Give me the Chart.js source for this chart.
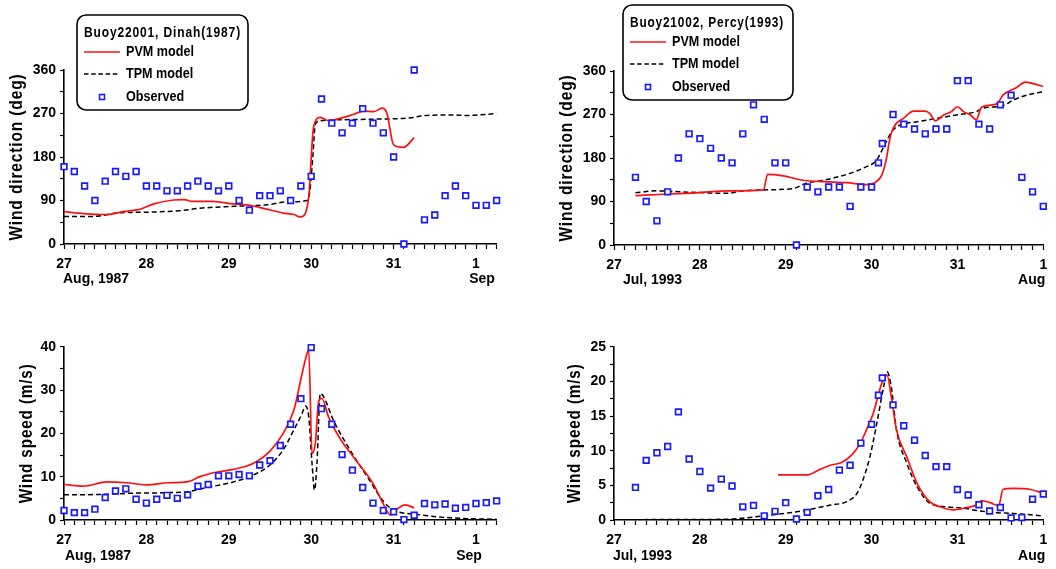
<!DOCTYPE html>
<html>
<head>
<meta charset="utf-8">
<script src="https://cdn.jsdelivr.net/npm/chart.js@4.4.1/dist/chart.umd.min.js"></script>
<style>
  body { margin: 0; background: #fff; }
  #wrap { position: relative; width: 1056px; height: 569px; overflow: hidden; }
  .panel { position: absolute; }
</style>
</head>
<body>
<div id="wrap">
  <div class="panel" style="left:0;top:0"><canvas id="dinahDir" width="528" height="290"></canvas></div>
  <div class="panel" style="left:528px;top:0"><canvas id="percyDir" width="528" height="290"></canvas></div>
  <div class="panel" style="left:0;top:290px"><canvas id="dinahSpd" width="528" height="279"></canvas></div>
  <div class="panel" style="left:528px;top:290px"><canvas id="percySpd" width="528" height="279"></canvas></div>
</div>
<script>
// x values are days after the 27th, 00h
const dayLabels = ["27", "28", "29", "30", "31", "1"];
const seriesNames = ["PVM model", "TPM model", "Observed"];
const dinahTitle = "Buoy22001, Dinah(1987)";
const percyTitle = "Buoy21002, Percy(1993)";
const dinahMonths = ["Aug, 1987", "Sep"];
const percyMonths = ["Jul, 1993", "Aug"];

// Dinah observations, every 3 h
const dinahObsTimes = [0, 0.125, 0.25, 0.375, 0.5, 0.625, 0.75, 0.875, 1, 1.125, 1.25, 1.375, 1.5, 1.625, 1.75, 1.875,
  2, 2.125, 2.25, 2.375, 2.5, 2.625, 2.75, 2.875, 3, 3.125, 3.25, 3.375, 3.5, 3.625, 3.75, 3.875,
  4, 4.125, 4.25, 4.375, 4.5, 4.625, 4.75, 4.875, 5, 5.125, 5.25];
const dinahDirObs = [160, 150, 120, 90, 130, 150, 140, 150, 120, 120, 110, 110, 120, 130, 120, 110,
  120, 90, 70, 100, 100, 110, 90, 120, 140, 300, 250, 230, 250, 280, 250, 230,
  180, 0, 360, 50, 60, 100, 120, 100, 80, 80, 90];
const dinahSpdObs = [2.2, 1.7, 1.7, 2.5, 5.2, 6.7, 7.2, 4.8, 3.9, 4.8, 5.7, 5.0, 5.8, 7.8, 8.2, 10.2,
  10.2, 10.5, 10.2, 12.7, 13.7, 17.2, 22.1, 28.0, 39.8, 25.7, 22.1, 15.1, 11.5, 7.5, 3.9, 2.2,
  1.9, 0.1, 1.1, 3.8, 3.5, 3.7, 2.7, 2.9, 3.8, 4.0, 4.4];

const dinahDirPvm = [[0, 67], [0.24, 63], [0.52, 61], [0.72, 67], [0.92, 72], [1.09, 83], [1.33, 91], [1.46, 92],
  [1.55, 88], [1.77, 88], [2.06, 83], [2.26, 80], [2.46, 72], [2.66, 64], [2.79, 61], [2.87, 56], [2.93, 64],
  [2.97, 98], [3.03, 243], [3.11, 262], [3.21, 255], [3.35, 260], [3.51, 268], [3.64, 275], [3.76, 274],
  [3.86, 281], [3.92, 270], [4.0, 205], [4.12, 200], [4.25, 220]];
const dinahDirTpm = [[0, 57], [0.36, 57], [0.64, 64], [1.05, 66], [1.41, 69], [1.65, 74], [2.06, 78], [2.46, 81],
  [2.7, 87], [2.95, 90], [2.98, 105], [3.02, 181], [3.05, 248], [3.11, 255], [3.68, 258], [4.25, 262],
  [4.33, 265], [4.69, 267], [4.89, 266], [5.25, 270]];
const dinahSpdPvm = [[0, 8.2], [0.24, 7.8], [0.52, 8.8], [0.76, 8.6], [1.0, 8.1], [1.26, 8.6], [1.49, 8.8],
  [1.65, 10], [1.81, 10.9], [2.06, 11.7], [2.3, 13.1], [2.5, 15.9], [2.66, 20], [2.79, 25.4], [2.89, 33.8],
  [2.95, 38.5], [2.97, 39.2], [3.01, 15.4], [3.05, 17.7], [3.09, 27.3], [3.13, 28.1], [3.21, 23.8],
  [3.35, 18.8], [3.51, 14.6], [3.76, 8.1], [3.88, 3.5], [3.96, 1.2], [4.04, 2.5], [4.14, 3.5], [4.25, 2.8]];
const dinahSpdTpm = [[0, 5.8], [0.44, 5.9], [0.85, 6.2], [1.25, 6.3], [1.49, 6.5], [1.73, 7.5], [2.06, 8.8],
  [2.3, 10.4], [2.5, 12.7], [2.66, 16.2], [2.79, 20.8], [2.89, 24.6], [2.93, 26.3], [2.97, 23.8], [3.01, 13.1],
  [3.04, 6.9], [3.07, 13.1], [3.11, 29.2], [3.15, 28.5], [3.27, 23], [3.47, 16.2], [3.68, 10], [3.88, 4.2],
  [4.0, 2.3], [4.28, 1.3], [4.69, 0.5], [5.25, 0.15]];

// Percy observations
const percyObsTimes = [0.25, 0.375, 0.5, 0.625, 0.75, 0.875, 1, 1.125, 1.25, 1.375, 1.5, 1.625, 1.75, 1.875,
  2, 2.125, 2.25, 2.375, 2.5, 2.625, 2.75, 2.875, 3, 3.08, 3.125, 3.25, 3.375, 3.5, 3.625, 3.75, 3.875,
  4, 4.125, 4.25, 4.375, 4.5, 4.625, 4.75, 4.875, 5];
const percyDirObs = [140, 90, 50, 110, 180, 230, 220, 200, 180, 170, 230, 290, 260, 170,
  170, 0, 120, 110, 120, 120, 80, 120, 120, 170, 210, 270, 250, 240, 230, 240, 240,
  340, 340, 250, 240, 290, 310, 140, 110, 80];
const percySpdObs = [4.7, 8.6, 9.7, 10.6, 15.6, 8.8, 7.0, 4.6, 5.9, 4.9, 1.9, 2.1, 0.6, 1.25,
  2.5, 0.15, 1.1, 3.5, 4.4, 7.2, 7.9, 11.1, 13.8, 18.0, 20.5, 16.6, 13.6, 11.5, 9.3, 7.7, 7.7,
  4.4, 3.6, 2.2, 1.3, 1.8, 0.3, 0.35, 3.0, 3.75];

const percyDirPvm = [[0.25, 102], [0.58, 105], [0.96, 108], [1.35, 112], [1.74, 114], [1.79, 146], [1.97, 143],
  [2.2, 134], [2.44, 131], [2.71, 129], [2.94, 125], [3.04, 129], [3.12, 145], [3.17, 176], [3.21, 217],
  [3.25, 241], [3.37, 262], [3.49, 277], [3.62, 277], [3.68, 272], [3.74, 257], [3.84, 269], [3.93, 276],
  [4.0, 286], [4.07, 276], [4.15, 269], [4.22, 259], [4.28, 285], [4.46, 292], [4.53, 310], [4.69, 326],
  [4.79, 337], [4.88, 334], [5.0, 328]];
const percyDirTpm = [[0.25, 108], [0.5, 112], [0.77, 110], [1.31, 107], [1.51, 112], [1.74, 114], [2.09, 117],
  [2.24, 128], [2.44, 134], [2.71, 146], [2.9, 159], [3.06, 176], [3.16, 210], [3.25, 238], [3.41, 252],
  [3.53, 255], [3.76, 262], [3.99, 269], [4.22, 276], [4.3, 283], [4.53, 288], [4.65, 300], [4.81, 310],
  [5.0, 317]];
const percySpdPvm = [[1.91, 6.5], [2.24, 6.5], [2.4, 7.3], [2.52, 7.9], [2.65, 8.3], [2.77, 9.4], [2.87, 11.1],
  [2.94, 13], [3.02, 15.4], [3.1, 19], [3.14, 20.4], [3.18, 20.9], [3.23, 17.8], [3.29, 13], [3.41, 9.1],
  [3.53, 5.3], [3.68, 2.6], [3.8, 1.9], [3.95, 1.45], [4.11, 1.8], [4.22, 2.15], [4.28, 2.8], [4.38, 2.5],
  [4.48, 2.05], [4.53, 4.4], [4.65, 4.55], [4.85, 4.4], [5.0, 3.85]];
const percySpdTpm = [[0.25, 0.05], [0.96, 0.08], [1.35, 0.12], [1.74, 0.6], [2.13, 1.2], [2.52, 2.15], [2.71, 2.65],
  [2.83, 3.85], [2.9, 5.8], [2.98, 9.1], [3.06, 13.9], [3.14, 19.2], [3.18, 21.4], [3.23, 19.2], [3.29, 13],
  [3.41, 8.2], [3.53, 4.8], [3.68, 2.4], [3.87, 1.9], [4.07, 1.7], [4.26, 1.3], [4.46, 1.05], [4.65, 0.95],
  [5.0, 0.58]];

const FONT = '"Liberation Sans", Arial, sans-serif';
const RED = "#ff1010";
const BLUE = "#1a1aff";

function pairs(arr) {
  return arr.map(p => ({ x: p[0], y: p[1] }));
}
function obsPoints(times, values) {
  return times.map((t, i) => ({ x: t, y: values[i] }));
}

// the original lettering is a condensed bold face: squeeze it horizontally
function squeezedText(ctx, text, x, y, sx) {
  ctx.save();
  ctx.translate(x, y);
  ctx.scale(sx, 1);
  ctx.fillText(text, 0, 0);
  ctx.restore();
}

function drawLegend(ctx, L) {
  const r = 9;
  ctx.save();
  ctx.strokeStyle = "#000";
  ctx.lineWidth = 1.6;
  ctx.beginPath();
  ctx.moveTo(L.x + r, L.y);
  ctx.arcTo(L.x + L.w, L.y, L.x + L.w, L.y + L.h, r);
  ctx.arcTo(L.x + L.w, L.y + L.h, L.x, L.y + L.h, r);
  ctx.arcTo(L.x, L.y + L.h, L.x, L.y, r);
  ctx.arcTo(L.x, L.y, L.x + L.w, L.y, r);
  ctx.closePath();
  ctx.stroke();

  ctx.fillStyle = "#000";
  ctx.textAlign = "left";
  ctx.textBaseline = "middle";
  ctx.font = "bold 14px " + FONT;
  ctx.letterSpacing = "1px";
  const tw = ctx.measureText(L.title).width;
  squeezedText(ctx, L.title, L.x + 7, L.y + 18, L.titleWidth / tw);
  ctx.letterSpacing = "0px";
  ctx.font = "bold 15px " + FONT;

  ctx.lineWidth = 1.6;
  ctx.strokeStyle = RED;
  ctx.beginPath();
  ctx.moveTo(L.x + 7, L.y + 37);
  ctx.lineTo(L.x + 43, L.y + 37);
  ctx.stroke();
  squeezedText(ctx, seriesNames[0], L.x + 49, L.y + 37, 0.84);

  ctx.strokeStyle = "#000";
  ctx.setLineDash([4.5, 2.7]);
  ctx.beginPath();
  ctx.moveTo(L.x + 7, L.y + 59);
  ctx.lineTo(L.x + 43, L.y + 59);
  ctx.stroke();
  ctx.setLineDash([]);
  squeezedText(ctx, seriesNames[1], L.x + 49, L.y + 59, 0.84);

  ctx.strokeStyle = BLUE;
  ctx.fillStyle = "#fff";
  ctx.fillRect(L.x + 22.5, L.y + 79.5, 5, 5);
  ctx.strokeRect(L.x + 22.5, L.y + 79.5, 5, 5);
  ctx.fillStyle = "#000";
  squeezedText(ctx, seriesNames[2], L.x + 49, L.y + 82, 0.84);
  ctx.restore();
}

const decor = {
  id: "decor",
  afterDraw(chart, args, o) {
    const ctx = chart.ctx;
    const a = chart.chartArea;
    const xs = chart.scales.x;
    ctx.save();
    ctx.fillStyle = "#000";

    ctx.save();
    ctx.translate(o.titleX, (a.top + a.bottom) / 2);
    ctx.rotate(-Math.PI / 2);
    ctx.font = "bold 18px " + FONT;
    ctx.letterSpacing = "1px";
    ctx.textAlign = "center";
    ctx.textBaseline = "middle";
    const tw = ctx.measureText(o.title).width;
    squeezedText(ctx, o.title, 0, 0, o.titleLength / tw);
    ctx.restore();

    ctx.font = "bold 14px " + FONT;
    ctx.textBaseline = "top";
    o.months.forEach(m => {
      ctx.textAlign = m.align;
      ctx.fillText(m.text, xs.getPixelForValue(m.at) + m.dx, a.bottom + o.monthDy);
    });

    if (o.legend) drawLegend(ctx, o.legend);
    ctx.restore();
  }
};

function makeChart(id, cfg) {
  const datasets = [
    {
      label: seriesNames[2],
      data: obsPoints(cfg.obsTimes, cfg.obs),
      showLine: false,
      pointStyle: "rect",
      pointRadius: 4.0,
      pointBorderWidth: 1.7,
      pointBorderColor: BLUE,
      pointBackgroundColor: "#fff",
      clip: false,
      order: 0
    },
    {
      label: seriesNames[0],
      data: pairs(cfg.pvm),
      showLine: true,
      borderColor: RED,
      borderWidth: 1.7,
      pointRadius: 0,
      cubicInterpolationMode: "monotone",
      order: 1
    },
    {
      label: seriesNames[1],
      data: pairs(cfg.tpm),
      showLine: true,
      borderColor: "#000",
      borderWidth: 1.5,
      borderDash: [5, 3],
      pointRadius: 0,
      cubicInterpolationMode: "monotone",
      order: 2
    }
  ];

  return new Chart(document.getElementById(id), {
    type: "scatter",
    data: { datasets },
    options: {
      responsive: false,
      animation: false,
      layout: { padding: cfg.padding },
      plugins: {
        legend: { display: false },
        tooltip: { enabled: false },
        decor: cfg.decor
      },
      scales: {
        x: {
          type: "linear",
          min: 0,
          max: cfg.xMax,
          afterFit: s => { s.height = cfg.xHeight; },
          grid: { drawOnChartArea: false, tickLength: 5, tickColor: "#000", tickWidth: 1.2 },
          border: { color: "#000", width: 1.6 },
          ticks: {
            stepSize: 0.125,
            autoSkip: false,
            maxRotation: 0,
            padding: 7,
            color: "#000",
            font: { family: FONT, size: 14, weight: "bold" },
            callback: v => (Number.isInteger(v) && v <= 5 ? dayLabels[v] : "")
          }
        },
        y: {
          min: 0,
          max: cfg.yMax,
          afterFit: s => { s.width = cfg.yWidth; },
          grid: { drawOnChartArea: false, tickLength: 4, tickColor: "#000", tickWidth: 1.2 },
          border: { color: "#000", width: 1.6 },
          ticks: {
            stepSize: cfg.yMinor,
            autoSkip: false,
            padding: 4,
            color: "#000",
            font: { family: FONT, size: 14, weight: "bold" },
            callback: v => (v % cfg.yMajor === 0 ? v : "")
          }
        }
      }
    },
    plugins: [decor]
  });
}

makeChart("dinahDir", {
  obsTimes: dinahObsTimes, obs: dinahDirObs, pvm: dinahDirPvm, tpm: dinahDirTpm,
  xMax: 5.25, yMax: 360, yMajor: 90, yMinor: 45,
  padding: { left: 0, top: 70, right: 31.4, bottom: 0 }, yWidth: 64, xHeight: 46,
  decor: {
    title: "Wind direction (deg)", titleX: 17, titleLength: 167, monthDy: 28,
    months: [
      { text: dinahMonths[0], at: 0, dx: -1, align: "left" },
      { text: dinahMonths[1], at: 5, dx: 6, align: "center" }
    ],
    legend: { x: 77, y: 15, w: 171, h: 95, title: dinahTitle, titleWidth: 157 }
  }
});

makeChart("percyDir", {
  obsTimes: percyObsTimes, obs: percyDirObs, pvm: percyDirPvm, tpm: percyDirTpm,
  xMax: 5, yMax: 360, yMajor: 90, yMinor: 45,
  padding: { left: 0, top: 71, right: 12.7, bottom: 0 }, yWidth: 86, xHeight: 45,
  decor: {
    title: "Wind direction (deg)", titleX: 39, titleLength: 167, monthDy: 28,
    months: [
      { text: percyMonths[0], at: 0, dx: 9, align: "left" },
      { text: percyMonths[1], at: 5, dx: 2, align: "right" }
    ],
    legend: { x: 95, y: 5, w: 170, h: 95, title: percyTitle, titleWidth: 154 }
  }
});

makeChart("dinahSpd", {
  obsTimes: dinahObsTimes, obs: dinahSpdObs, pvm: dinahSpdPvm, tpm: dinahSpdTpm,
  xMax: 5.25, yMax: 40, yMajor: 10, yMinor: 5,
  padding: { left: 0, top: 56.7, right: 31.4, bottom: 0 }, yWidth: 64, xHeight: 49,
  decor: {
    title: "Wind speed (m/s)", titleX: 27, titleLength: 140, monthDy: 29,
    months: [
      { text: dinahMonths[0], at: 0, dx: 1, align: "left" },
      { text: dinahMonths[1], at: 5, dx: -7, align: "center" }
    ]
  }
});

makeChart("percySpd", {
  obsTimes: percyObsTimes, obs: percySpdObs, pvm: percySpdPvm, tpm: percySpdTpm,
  xMax: 5, yMax: 25, yMajor: 5, yMinor: 2.5,
  padding: { left: 0, top: 56.7, right: 12.7, bottom: 0 }, yWidth: 86, xHeight: 49,
  decor: {
    title: "Wind speed (m/s)", titleX: 47, titleLength: 140, monthDy: 29,
    months: [
      { text: percyMonths[0], at: 0, dx: -1, align: "left" },
      { text: percyMonths[1], at: 5, dx: 2, align: "right" }
    ]
  }
});
</script>
</body>
</html>
